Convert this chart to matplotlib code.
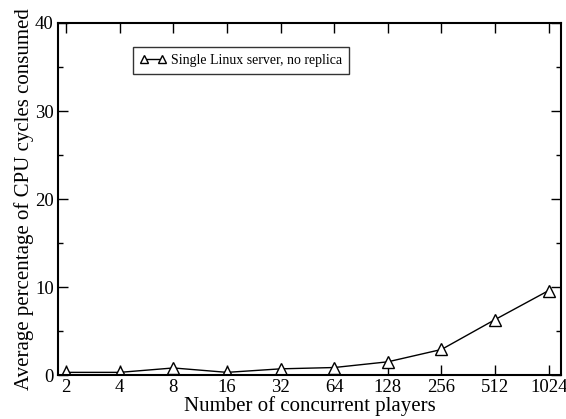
import matplotlib.pyplot as plt
from matplotlib.ticker import MultipleLocator, FixedLocator, NullLocator

# data
players = [2, 4, 8, 16, 32, 64, 128, 256, 512, 1024]
cpu_pct = [0.3, 0.3, 0.8, 0.3, 0.7, 0.85, 1.5, 2.9, 6.3, 9.6]
series_label = "Single Linux server, no replica"

plt.rcParams['font.family'] = ['Liberation Serif', 'DejaVu Serif']

fig = plt.figure(figsize=(5.66, 4.19), dpi=100)
ax = fig.add_axes([58 / 566, 1 - 375 / 419, (561 - 58) / 566, (375 - 23) / 419])

ax.plot(players, cpu_pct, color='black', linewidth=1.0, marker='^', markersize=8,
        markerfacecolor='white', markeredgecolor='black', markeredgewidth=1.0,
        label=series_label)

ax.set_xscale('log', base=2)
ax.set_xlim(1.8, 1200)
ax.set_ylim(0, 40)
ax.xaxis.set_major_locator(FixedLocator(players))
ax.xaxis.set_minor_locator(NullLocator())
ax.set_xticklabels([str(p) for p in players])
ax.yaxis.set_major_locator(MultipleLocator(10))
ax.yaxis.set_minor_locator(MultipleLocator(5))

ax.tick_params(which='both', direction='in', top=True, right=True, labelsize=13.5, pad=3)
ax.tick_params(which='major', length=7, width=1.0)
ax.tick_params(which='minor', length=3.5, width=1.0)
for s in ax.spines.values():
    s.set_linewidth(1.5)

ax.set_xlabel('Number of concurrent players', fontsize=15, labelpad=0)
ax.set_ylabel('Average percentage of CPU cycles consumed', fontsize=15, labelpad=1)

leg = ax.legend(loc='upper left', bbox_to_anchor=(75 / 503, 1 - 24 / 352), numpoints=2,
                fontsize=10, frameon=True, fancybox=False, markerscale=0.7,
                handlelength=1.9, handletextpad=0.35, borderpad=0.5, borderaxespad=0)
leg.get_frame().set_edgecolor('black')
leg.get_frame().set_linewidth(1.0)

fig.savefig('out.png', dpi=100)
